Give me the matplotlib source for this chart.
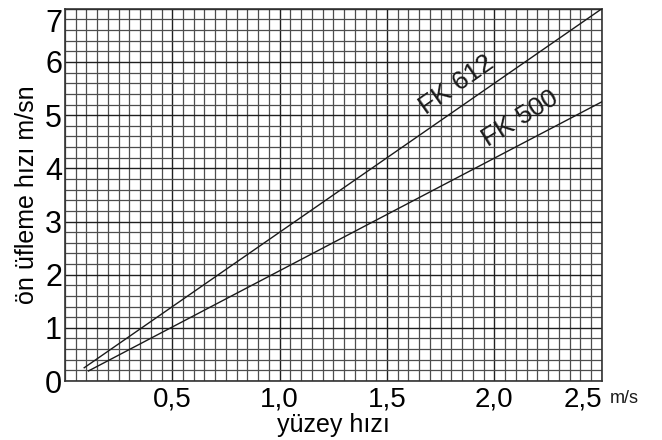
import matplotlib.pyplot as plt
from matplotlib.ticker import MultipleLocator

plt.rcParams['font.family'] = ['Liberation Sans', 'DejaVu Sans']

# surface speed (m/s) vs pre-blow speed (m/sn), straight lines
fk612_x = [0.09, 2.5]
fk612_y = [0.25, 7.0]
fk500_x = [0.11, 2.5]
fk500_y = [0.19, 5.25]

x_ticks = [0.5, 1.0, 1.5, 2.0, 2.5]
x_labels = ['0,5', '1,0', '1,5', '2,0', '2,5']
y_ticks = [0, 1, 2, 3, 4, 5, 6, 7]

fig = plt.figure(figsize=(6.62, 4.40), dpi=100)
ax = fig.add_axes([0.098, 0.134, 0.811, 0.846])

ax.plot(fk612_x, fk612_y, color='#1a1a1a', lw=1.0, zorder=3)
ax.plot(fk500_x, fk500_y, color='#1a1a1a', lw=1.0, zorder=3)

ax.set_xlim(0, 2.5)
ax.set_ylim(0, 7)
ax.xaxis.set_minor_locator(MultipleLocator(0.05))
ax.yaxis.set_minor_locator(MultipleLocator(0.2))
ax.set_xticks(x_ticks)
ax.set_xticklabels(x_labels, fontsize=20)
ax.set_yticks(y_ticks)
ax.set_yticklabels([str(v) for v in y_ticks], fontsize=22)
ax.tick_params(which='both', length=0)
ax.tick_params(axis='x', pad=4)
ax.tick_params(axis='y', pad=2)
ax.get_xticklabels()[-1].set_ha('right')
ax.get_yticklabels()[-1].set_va('top')

ax.grid(True, which='minor', color='#4d4d4d', lw=0.9)
ax.grid(True, which='major', color='#1f1f1f', lw=1.0)
ax.set_axisbelow(True)
for s in ax.spines.values():
    s.set_color('#333333')
    s.set_linewidth(1.2)

ax.text(1.825, 5.57, 'FK 612', rotation=35, fontsize=19, ha='center', va='center',
        color='#1a1a1a')
ax.text(2.12, 4.94, 'FK 500', rotation=32, fontsize=19, ha='center', va='center',
        color='#1a1a1a')
ax.text(1.015, -0.025, 'm/s', transform=ax.transAxes, fontsize=13, ha='left', va='top',
        color='#1a1a1a')

ax.set_xlabel('yüzey hızı', fontsize=18, labelpad=0)
ax.set_ylabel('ön üfleme hızı m/sn', fontsize=18, labelpad=4)

fig.savefig('out.png', dpi=100)
